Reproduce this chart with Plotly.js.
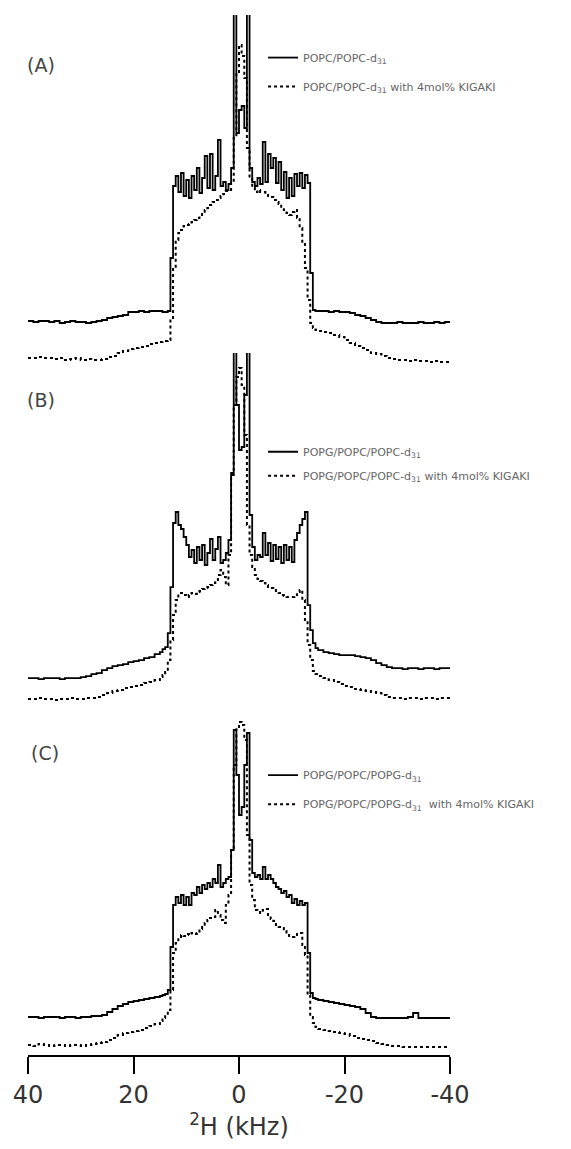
<!DOCTYPE html>
<html><head><meta charset="utf-8">
<script src="https://cdn.plot.ly/plotly-3.0.1.min.js"></script>
<style>body{margin:0;background:#fff}</style></head>
<body><div id="chart" style="width:571px;height:1149px"></div>
<script>
// frequency grid (kHz)
const freq_kHz = [
 40,39,38,37,36,35,34,33,32,31,30,29,28,27,26,25,24,23,22,21,20,19,18,17,16,15,
 14.5,14,13.5,13,12.5,12,11.5,11,10.5,10,9.5,9,8.5,8,7.5,7,6.5,6,5.5,5,4.5,4,3.5,3,2.5,2,1.5,1,0.5,
 0,
 -0.5,-1,-1.5,-2,-2.5,-3,-3.5,-4,-4.5,-5,-5.5,-6,-6.5,-7,-7.5,-8,-8.5,-9,-9.5,-10,-10.5,-11,-11.5,-12,-12.5,-13,-13.5,-14,-14.5,
 -15,-16,-17,-18,-19,-20,-21,-22,-23,-24,-25,-26,-27,-28,-29,-30,-31,-32,-33,-34,-35,-36,-37,-38,-39,-40
];

// Panel A intensities (a.u.)
const A_solid = [
 47,46,47,47,46,47,45,46,47,46,46,45,46,47,48,50,51,52,53,56,56,57,56,57,57,57,
 56,56,57,110,182,192,176,195,172,188,170,192,178,200,175,190,212,180,214,178,192,228,182,186,178,184,200,420,235,
 258,
 262,240,420,200,186,182,190,184,226,186,214,200,210,185,206,178,196,170,190,172,194,182,195,180,193,185,95,58,57,
 57,57,56,57,56,56,55,53,52,50,48,46,45,45,45,46,45,45,45,46,45,45,46,45,46,45
];
const A_dashed = [
 10,10,11,10,10,9,10,8,9,10,8,9,8,8,9,11,12,15,17,19,20,21,22,24,25,26,
 27,27,28,50,100,128,135,138,142,143,144,146,148,150,153,155,158,160,163,166,168,170,172,174,177,178,185,230,295,
 323,
 312,290,220,190,180,176,178,176,176,174,172,171,168,166,164,160,158,155,153,156,158,150,140,125,100,68,45,40,38,
 37,36,35,33,31,28,25,22,20,18,15,14,12,10,9,8,8,7,8,7,7,6,7,6,6,5
];

// Panel B intensities (a.u.)
const B_solid = [
 27,27,26,27,27,27,26,27,27,27,28,29,31,32,35,37,39,40,41,43,44,45,47,48,51,53,
 56,58,72,118,182,193,180,176,168,160,148,155,142,158,145,160,140,152,166,145,156,168,142,145,152,165,232,420,300,
 255,
 258,310,420,190,158,145,150,148,172,150,162,144,160,146,158,142,160,145,158,143,165,172,180,186,193,100,75,62,57,
 55,53,52,51,50,50,50,49,48,47,45,42,40,38,37,37,36,37,37,36,37,37,36,37,37,37
];
const B_dashed = [
 6,6,7,6,6,5,6,6,7,6,6,7,7,8,10,12,14,15,17,18,19,20,22,23,25,28,
 30,33,45,65,90,105,112,112,110,108,110,112,111,113,114,116,117,118,120,122,125,130,135,128,120,150,230,300,328,
 337,
 320,270,180,150,138,130,126,124,122,120,118,117,115,113,112,110,109,108,108,108,110,113,115,105,85,60,45,34,31,
 29,27,25,23,21,19,18,16,15,14,13,12,10,8,7,7,6,7,7,6,7,7,6,7,7,7
];

// Panel C intensities (a.u.)
const C_solid = [
 38,38,37,38,38,38,37,38,38,37,38,38,39,39,40,43,46,49,51,53,54,55,56,57,58,59,
 60,61,65,108,150,158,152,160,150,158,150,162,160,168,162,170,166,172,168,176,172,190,168,172,176,178,205,325,280,
 240,
 248,290,322,215,182,178,180,176,188,176,180,176,172,168,166,162,164,158,160,152,156,150,154,150,152,102,62,57,56,
 55,54,53,52,51,50,49,48,46,42,38,37,37,37,37,37,37,38,42,37,37,37,37,37,37,37
];
const C_dashed = [
 10,9,11,10,9,10,10,9,10,10,9,10,11,12,13,15,17,20,22,23,24,25,27,29,31,34,
 37,40,45,65,102,112,118,120,119,121,120,122,121,122,126,129,132,135,137,138,145,140,135,132,150,160,205,290,328,
 333,
 330,315,220,170,155,145,143,142,145,146,140,136,134,130,128,127,124,120,118,118,119,121,122,110,100,60,38,32,28,
 26,25,24,23,22,21,19,17,16,15,14,12,11,10,9,9,8,8,8,8,8,8,8,8,8,8
];

const tickVals = [40, 20, 0, -20, -40];
const tickText = ["40", "20", "0", "-20", "-40"];
const seriesNames = {
  A: ["POPC/POPC-d<sub>31</sub>", "POPC/POPC-d<sub>31</sub> with 4mol% KIGAKI"],
  B: ["POPG/POPC/POPC-d<sub>31</sub>", "POPG/POPC/POPC-d<sub>31</sub> with 4mol% KIGAKI"],
  C: ["POPG/POPC/POPG-d<sub>31</sub>", "POPG/POPC/POPG-d<sub>31</sub>  with 4mol% KIGAKI"]
};
const panelLabels = ["(A)", "(B)", "(C)"];

function tr(y, name, dashed, yaxis, legend, group) {
  return {
    x: freq_kHz, y: y, name: name, type: 'scatter', mode: 'lines',
    line: {color: '#000', width: dashed ? 2 : 1.8, dash: dashed ? '3px,3px' : 'solid', shape: 'hv'},
    xaxis: 'x', yaxis: yaxis, legend: legend, legendgroup: group, hoverinfo: 'skip'
  };
}

const data = [
  tr(A_solid, seriesNames.A[0], false, 'y', 'legend', 'a1'),
  tr(A_dashed, seriesNames.A[1], true, 'y', 'legend', 'a2'),
  tr(B_solid, seriesNames.B[0], false, 'y2', 'legend2', 'b1'),
  tr(B_dashed, seriesNames.B[1], true, 'y2', 'legend2', 'b2'),
  tr(C_solid, seriesNames.C[0], false, 'y3', 'legend3', 'c1'),
  tr(C_dashed, seriesNames.C[1], true, 'y3', 'legend3', 'c2')
];

const legFont = {family: 'DejaVu Sans', size: 11, color: '#666'};
function leg(y, gap) {
  return {x: 0.557, y: y, xanchor: 'left', yanchor: 'top', bgcolor: 'rgba(0,0,0,0)',
    font: legFont, traceorder: 'grouped', tracegroupgap: gap, itemwidth: 30, borderwidth: 0};
}
const labFont = {family: 'DejaVu Sans', size: 19, color: '#444'};

const layout = {
  width: 571, height: 1149,
  margin: {l: 28, r: 121, t: 15, b: 94},
  paper_bgcolor: '#fff', plot_bgcolor: 'rgba(0,0,0,0)',
  showlegend: true,
  xaxis: {
    domain: [0, 1], range: [40, -40], anchor: 'y3',
    tickmode: 'array', tickvals: tickVals, ticktext: tickText,
    ticks: 'outside', ticklen: 17, tickwidth: 2, tickcolor: '#000',
    showline: true, linecolor: '#000', linewidth: 2,
    showgrid: false, zeroline: false,
    tickfont: {family: 'DejaVu Sans', size: 24, color: '#333'},
    title: {text: '<sup>2</sup>H (kHz)', font: {family: 'DejaVu Sans', size: 24, color: '#333'}, standoff: 4}
  },
  yaxis: {domain: [0.6606, 1], range: [0, 353], visible: false, anchor: 'x'},
  yaxis2: {domain: [0.3365, 0.675], range: [0, 352], visible: false, anchor: 'x'},
  yaxis3: {domain: [0, 0.3269], range: [0, 340], visible: false, anchor: 'x'},
  legend: leg(0.973, 10),
  legend2: leg(0.594, 5),
  legend3: leg(0.283, 10),
  annotations: [
    {text: panelLabels[0], xref: 'paper', yref: 'paper', x: -0.007, y: 0.952, xanchor: 'left', yanchor: 'middle', showarrow: false, font: labFont},
    {text: panelLabels[1], xref: 'paper', yref: 'paper', x: -0.007, y: 0.630, xanchor: 'left', yanchor: 'middle', showarrow: false, font: labFont},
    {text: panelLabels[2], xref: 'paper', yref: 'paper', x: 0.002, y: 0.290, xanchor: 'left', yanchor: 'middle', showarrow: false, font: labFont}
  ]
};

Plotly.newPlot('chart', data, layout, {displayModeBar: false, staticPlot: true});
</script>
</body></html>
